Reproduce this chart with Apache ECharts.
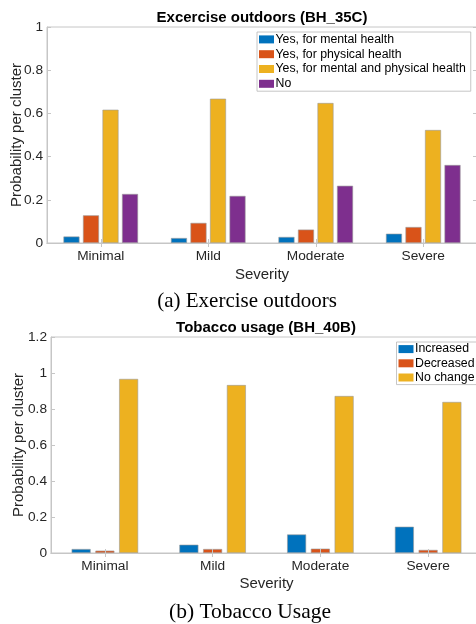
<!DOCTYPE html>
<html>
<head>
<meta charset="utf-8">
<script src="https://cdn.jsdelivr.net/npm/echarts@6/dist/echarts.min.js"></script>
<style>
  html, body { margin: 0; padding: 0; background: #ffffff; }
  #chart { width: 476px; height: 624px; }
</style>
</head>
<body>
<div id="chart"></div>
<script>
// ---- Data ----
const categories = ['Minimal', 'Mild', 'Moderate', 'Severe'];

const exerciseTitle = 'Excercise outdoors (BH_35C)';
const exerciseNames = ['Yes, for mental health', 'Yes, for physical health', 'Yes, for mental and physical health', 'No'];
const exMental = [0.030, 0.023, 0.028, 0.043];
const exPhysical = [0.128, 0.093, 0.062, 0.074];
const exBoth = [0.617, 0.668, 0.648, 0.523];
const exNo = [0.227, 0.218, 0.265, 0.361];

const tobaccoTitle = 'Tobacco usage (BH_40B)';
const tobaccoNames = ['Increased', 'Decreased', 'No change'];
const tbIncreased = [0.022, 0.046, 0.103, 0.146];
const tbDecreased = [0.013, 0.022, 0.024, 0.017];
const tbNoChange = [0.967, 0.933, 0.872, 0.839];

const yMaxA = 1, yMaxB = 1.2, yStep = 0.2;
const xAxisName = 'Severity';
const yAxisName = 'Probability per cluster';
const captionA = '(a) Exercise outdoors';
const captionB = '(b) Tobacco Usage';

// ---- Styles ----
const colors = ['#0072BD', '#D95319', '#EDB120', '#7E2F8E'];
const axisColor = '#c6c6c6';
const textColor = '#262626';
const sans = 'Liberation Sans, Arial, Helvetica, sans-serif';
const serif = 'Liberation Serif, Times New Roman, serif';

const chart = echarts.init(document.getElementById('chart'), null, { renderer: 'canvas' });

function axesFor(gridIndex, yMax, nameGapX, nameGapY) {
  const tick = { show: true, inside: true, length: 4, lineStyle: { color: axisColor, width: 1 } };
  return {
    x: [
      {
        type: 'category', gridIndex, data: categories, position: 'bottom', z: 5,
        axisLine: { show: true, lineStyle: { color: axisColor } },
        axisTick: Object.assign({ alignWithLabel: true }, tick),
        axisLabel: { color: textColor, fontFamily: sans, fontSize: 13.7, margin: 6 },
        name: xAxisName, nameLocation: 'middle', nameGap: nameGapX, nameMoveOverlap: false,
        nameTextStyle: { color: textColor, fontFamily: sans, fontSize: 15 },
        splitLine: { show: false }
      },
      {
        type: 'category', gridIndex, data: categories, position: 'top', z: 5,
        axisLine: { show: true, lineStyle: { color: axisColor } },
        axisTick: Object.assign({ alignWithLabel: true }, tick),
        axisLabel: { show: false }, splitLine: { show: false }
      }
    ],
    y: [
      {
        type: 'value', gridIndex, min: 0, max: yMax, interval: yStep, position: 'left', z: 5,
        axisLine: { show: true, lineStyle: { color: axisColor } },
        axisTick: tick,
        axisLabel: { color: textColor, fontFamily: sans, fontSize: 13.7, margin: 4 },
        name: yAxisName, nameLocation: 'middle', nameGap: nameGapY, nameRotate: 90, nameMoveOverlap: false,
        nameTextStyle: { color: textColor, fontFamily: sans, fontSize: 15 },
        splitLine: { show: false }
      },
      {
        type: 'value', gridIndex, min: 0, max: yMax, interval: yStep, position: 'right', z: 5,
        axisLine: { show: true, lineStyle: { color: axisColor } },
        axisTick: tick,
        axisLabel: { show: false }, splitLine: { show: false }
      }
    ]
  };
}

const a = axesFor(0, yMaxA, 24, 23);
const b = axesFor(1, yMaxB, 23, 25);

function barSeries(name, data, color, xIdx, yIdx, width, gap) {
  return {
    name, type: 'bar', data, xAxisIndex: xIdx, yAxisIndex: yIdx,
    barWidth: width, barGap: gap,
    itemStyle: { color, borderColor: '#9a9a9a', borderWidth: 0.6 },
    emphasis: { disabled: true }
  };
}

const exData = [exMental, exPhysical, exBoth, exNo];
const tbData = [tbIncreased, tbDecreased, tbNoChange];

const series = [];
exData.forEach((d, i) => series.push(barSeries(exerciseNames[i], d, colors[i], 0, 0, 16, '22%')));
tbData.forEach((d, i) => series.push(barSeries(tobaccoNames[i], d, colors[i], 2, 2, 19, '25%')));

const legendText = { color: '#000', fontFamily: sans, fontSize: 12.3, padding: [0, 0, 0, -3.5] };

const option = {
  animation: false,
  backgroundColor: '#ffffff',
  title: [
    { text: exerciseTitle, left: 262, top: 10, textAlign: 'center', padding: 0,
      textStyle: { fontFamily: sans, fontSize: 15, fontWeight: 'bold', color: '#000' } },
    { text: tobaccoTitle, left: 266, top: 320, textAlign: 'center', padding: 0,
      textStyle: { fontFamily: sans, fontSize: 15, fontWeight: 'bold', color: '#000' } }
  ],
  grid: [
    { left: 47, top: 27, width: 430, height: 216, show: true, borderColor: axisColor, borderWidth: 1, backgroundColor: 'transparent', containLabel: false, outerBoundsMode: 'none' },
    { left: 51, top: 337, width: 431, height: 216, show: true, borderColor: axisColor, borderWidth: 1, backgroundColor: 'transparent', containLabel: false, outerBoundsMode: 'none' }
  ],
  xAxis: [...a.x, ...b.x],
  yAxis: [...a.y, ...b.y],
  legend: [
    {
      data: exerciseNames, left: 257, top: 32, orient: 'vertical', align: 'left',
      itemWidth: 15, itemHeight: 8, itemGap: 0, icon: 'rect',
      itemStyle: { borderWidth: 0 },
      padding: [0, 5, 0, 2], borderColor: '#b8b8b8', borderWidth: 0.8, backgroundColor: '#fff',
      textStyle: Object.assign({ lineHeight: 14.8 }, legendText),
      selectedMode: false
    },
    {
      data: tobaccoNames, left: 396.5, top: 342, orient: 'vertical', align: 'left',
      itemWidth: 15, itemHeight: 8, itemGap: 0, icon: 'rect',
      itemStyle: { borderWidth: 0 },
      padding: [0, 5, 0, 2], borderColor: '#b8b8b8', borderWidth: 0.8, backgroundColor: '#fff',
      textStyle: Object.assign({ lineHeight: 14.2 }, legendText),
      selectedMode: false
    }
  ],
  graphic: [
    { type: 'text', x: 247, y: 301.7, style: { text: captionA, fontFamily: serif, fontSize: 21, fill: '#000', align: 'center', verticalAlign: 'middle' } },
    { type: 'text', x: 250, y: 612.5, style: { text: captionB, fontFamily: serif, fontSize: 21.5, fill: '#000', align: 'center', verticalAlign: 'middle' } }
  ],
  series
};

chart.setOption(option);
</script>
</body>
</html>
